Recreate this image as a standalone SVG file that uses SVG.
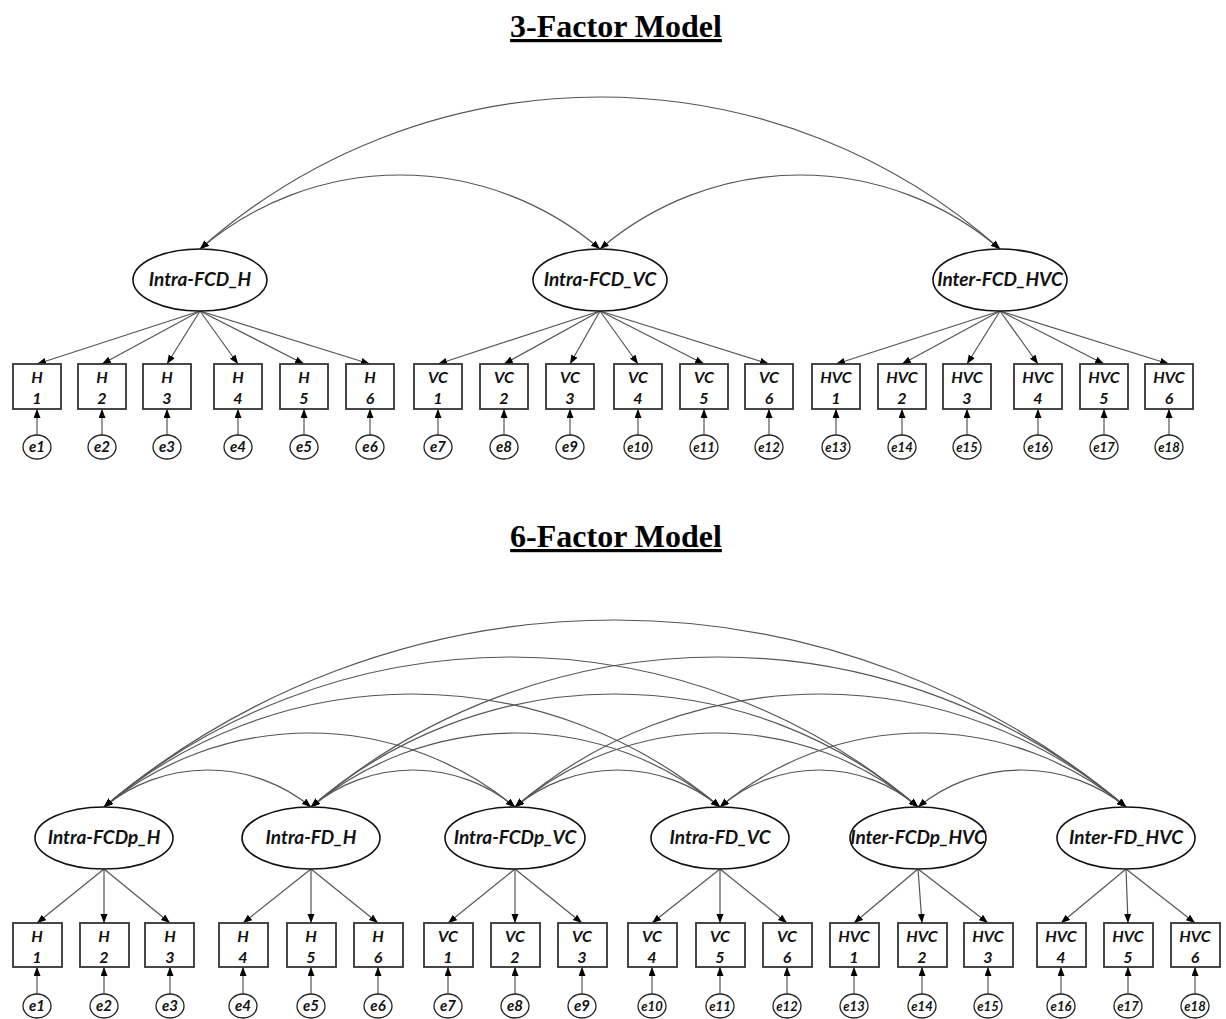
<svg xmlns="http://www.w3.org/2000/svg" width="1226" height="1019" viewBox="0 0 1226 1019">
<style>
.title{font-family:"Liberation Serif","Times New Roman",serif;font-weight:bold;font-size:32px;text-anchor:middle;text-decoration:underline;fill:#000}
.lat{fill:#fff;stroke:#111;stroke-width:1.6}
.latt{font-family:Lato,"Liberation Sans",sans-serif;font-weight:bold;font-style:italic;font-size:19px;text-anchor:middle;fill:#111}
.box{fill:#fff;stroke:#333;stroke-width:1.8}
.boxt{font-family:Lato,"Liberation Sans",sans-serif;font-weight:bold;font-style:italic;font-size:16px;text-anchor:middle;fill:#111}
.err{fill:#fff;stroke:#222;stroke-width:1.3}
.errt{font-family:Lato,"Liberation Sans",sans-serif;font-weight:bold;font-style:italic;font-size:15px;text-anchor:middle;fill:#111}
.errt2{font-size:13px}
.ln{fill:none;stroke:#555;stroke-width:1.2;marker-end:url(#ah)}
.cov{fill:none;stroke:#555;stroke-width:1.2;marker-start:url(#ah);marker-end:url(#ah)}
</style>
<defs>
<marker id="ah" markerUnits="userSpaceOnUse" markerWidth="10" markerHeight="8" refX="9" refY="3.5" orient="auto-start-reverse">
<path d="M0,0 L9,3.5 L0,7 z" fill="#000"/>
</marker>
</defs>
<rect width="1226" height="1019" fill="#fff"/>
<text class="title" x="616" y="37">3-Factor Model</text>
<text class="title" x="616" y="547">6-Factor Model</text>

<g id="connectors">
<!-- top covariances -->
<path class="cov" d="M200,249 A307.3,307.3 0 0 1 600,249"/>
<path class="cov" d="M600,249 A307.3,307.3 0 0 1 1000,249"/>
<path class="cov" d="M200,249 A602.3,602.3 0 0 1 1000,249"/>
<!-- top loadings -->
<path class="ln" d="M200,311 L37,364"/>
<path class="ln" d="M200,311 L102,364"/>
<path class="ln" d="M200,311 L167,364"/>
<path class="ln" d="M200,311 L238,364"/>
<path class="ln" d="M200,311 L304,364"/>
<path class="ln" d="M200,311 L370,364"/>
<path class="ln" d="M600,311 L438,364"/>
<path class="ln" d="M600,311 L504,364"/>
<path class="ln" d="M600,311 L570,364"/>
<path class="ln" d="M600,311 L638,364"/>
<path class="ln" d="M600,311 L704,364"/>
<path class="ln" d="M600,311 L769,364"/>
<path class="ln" d="M1000,311 L836,364"/>
<path class="ln" d="M1000,311 L902,364"/>
<path class="ln" d="M1000,311 L967,364"/>
<path class="ln" d="M1000,311 L1038,364"/>
<path class="ln" d="M1000,311 L1104,364"/>
<path class="ln" d="M1000,311 L1169,364"/>
<!-- top errors -->
<path class="ln" d="M37,435 L37,409"/>
<path class="ln" d="M102,435 L102,409"/>
<path class="ln" d="M167,435 L167,409"/>
<path class="ln" d="M238,435 L238,409"/>
<path class="ln" d="M304,435 L304,409"/>
<path class="ln" d="M370,435 L370,409"/>
<path class="ln" d="M438,435 L438,409"/>
<path class="ln" d="M504,435 L504,409"/>
<path class="ln" d="M570,435 L570,409"/>
<path class="ln" d="M638,435 L638,409"/>
<path class="ln" d="M704,435 L704,409"/>
<path class="ln" d="M769,435 L769,409"/>
<path class="ln" d="M836,435 L836,409"/>
<path class="ln" d="M902,435 L902,409"/>
<path class="ln" d="M967,435 L967,409"/>
<path class="ln" d="M1038,435 L1038,409"/>
<path class="ln" d="M1104,435 L1104,409"/>
<path class="ln" d="M1169,435 L1169,409"/>
<!-- bottom covariances -->
<path class="cov" d="M104,807 A163.3,163.3 0 0 1 311,807"/>
<path class="cov" d="M311,807 A159.1,159.1 0 0 1 515,807"/>
<path class="cov" d="M515,807 A160.5,160.5 0 0 1 720,807"/>
<path class="cov" d="M720,807 A150.9,150.9 0 0 1 918,807"/>
<path class="cov" d="M918,807 A164.7,164.7 0 0 1 1126,807"/>
<path class="cov" d="M104,807 A322.3,322.3 0 0 1 515,807"/>
<path class="cov" d="M311,807 A319.6,319.6 0 0 1 720,807"/>
<path class="cov" d="M515,807 A311.3,311.3 0 0 1 918,807"/>
<path class="cov" d="M720,807 A315.4,315.4 0 0 1 1126,807"/>
<path class="cov" d="M104,807 A476.3,476.3 0 0 1 720,807"/>
<path class="cov" d="M311,807 A464.1,464.1 0 0 1 918,807"/>
<path class="cov" d="M515,807 A469.5,469.5 0 0 1 1126,807"/>
<path class="cov" d="M104,807 A627.2,627.2 0 0 1 918,807"/>
<path class="cov" d="M311,807 A628.5,628.5 0 0 1 1126,807"/>
<path class="cov" d="M104,807 A791.7,791.7 0 0 1 1126,807"/>
<!-- bottom loadings -->
<path class="ln" d="M104,869 L37,923"/>
<path class="ln" d="M104,869 L104,923"/>
<path class="ln" d="M104,869 L170,923"/>
<path class="ln" d="M311,869 L243,923"/>
<path class="ln" d="M311,869 L311,923"/>
<path class="ln" d="M311,869 L378,923"/>
<path class="ln" d="M515,869 L448,923"/>
<path class="ln" d="M515,869 L515,923"/>
<path class="ln" d="M515,869 L582,923"/>
<path class="ln" d="M720,869 L652,923"/>
<path class="ln" d="M720,869 L720,923"/>
<path class="ln" d="M720,869 L787,923"/>
<path class="ln" d="M918,869 L854,923"/>
<path class="ln" d="M918,869 L922,923"/>
<path class="ln" d="M918,869 L988,923"/>
<path class="ln" d="M1126,869 L1061,923"/>
<path class="ln" d="M1126,869 L1128,923"/>
<path class="ln" d="M1126,869 L1195,923"/>
<!-- bottom errors -->
<path class="ln" d="M37,994 L37,967"/>
<path class="ln" d="M104,994 L104,967"/>
<path class="ln" d="M170,994 L170,967"/>
<path class="ln" d="M243,994 L243,967"/>
<path class="ln" d="M311,994 L311,967"/>
<path class="ln" d="M378,994 L378,967"/>
<path class="ln" d="M448,994 L448,967"/>
<path class="ln" d="M515,994 L515,967"/>
<path class="ln" d="M582,994 L582,967"/>
<path class="ln" d="M652,994 L652,967"/>
<path class="ln" d="M720,994 L720,967"/>
<path class="ln" d="M787,994 L787,967"/>
<path class="ln" d="M854,994 L854,967"/>
<path class="ln" d="M922,994 L922,967"/>
<path class="ln" d="M988,994 L988,967"/>
<path class="ln" d="M1061,994 L1061,967"/>
<path class="ln" d="M1128,994 L1128,967"/>
<path class="ln" d="M1195,994 L1195,967"/>
</g>

<!-- top latent -->
<g id="t-intra-fcd-h"><ellipse class="lat" cx="200" cy="280" rx="67" ry="31"/><text class="latt" x="200" y="286">Intra-FCD_H</text></g>
<g id="t-intra-fcd-vc"><ellipse class="lat" cx="600" cy="280" rx="67" ry="31"/><text class="latt" x="600" y="286">Intra-FCD_VC</text></g>
<g id="t-inter-fcd-hvc"><ellipse class="lat" cx="1000" cy="280" rx="67" ry="31"/><text class="latt" x="1000" y="286">Inter-FCD_HVC</text></g>

<!-- top boxes -->
<g id="t-h1"><rect class="box" x="13" y="364" width="48" height="45"/><text class="boxt" x="37" y="383">H</text><text class="boxt" x="37" y="404">1</text></g>
<g id="t-h2"><rect class="box" x="78" y="364" width="48" height="45"/><text class="boxt" x="102" y="383">H</text><text class="boxt" x="102" y="404">2</text></g>
<g id="t-h3"><rect class="box" x="143" y="364" width="48" height="45"/><text class="boxt" x="167" y="383">H</text><text class="boxt" x="167" y="404">3</text></g>
<g id="t-h4"><rect class="box" x="214" y="364" width="48" height="45"/><text class="boxt" x="238" y="383">H</text><text class="boxt" x="238" y="404">4</text></g>
<g id="t-h5"><rect class="box" x="280" y="364" width="48" height="45"/><text class="boxt" x="304" y="383">H</text><text class="boxt" x="304" y="404">5</text></g>
<g id="t-h6"><rect class="box" x="346" y="364" width="48" height="45"/><text class="boxt" x="370" y="383">H</text><text class="boxt" x="370" y="404">6</text></g>
<g id="t-vc1"><rect class="box" x="414" y="364" width="48" height="45"/><text class="boxt" x="438" y="383">VC</text><text class="boxt" x="438" y="404">1</text></g>
<g id="t-vc2"><rect class="box" x="480" y="364" width="48" height="45"/><text class="boxt" x="504" y="383">VC</text><text class="boxt" x="504" y="404">2</text></g>
<g id="t-vc3"><rect class="box" x="546" y="364" width="48" height="45"/><text class="boxt" x="570" y="383">VC</text><text class="boxt" x="570" y="404">3</text></g>
<g id="t-vc4"><rect class="box" x="614" y="364" width="48" height="45"/><text class="boxt" x="638" y="383">VC</text><text class="boxt" x="638" y="404">4</text></g>
<g id="t-vc5"><rect class="box" x="680" y="364" width="48" height="45"/><text class="boxt" x="704" y="383">VC</text><text class="boxt" x="704" y="404">5</text></g>
<g id="t-vc6"><rect class="box" x="745" y="364" width="48" height="45"/><text class="boxt" x="769" y="383">VC</text><text class="boxt" x="769" y="404">6</text></g>
<g id="t-hvc1"><rect class="box" x="812" y="364" width="48" height="45"/><text class="boxt" x="836" y="383">HVC</text><text class="boxt" x="836" y="404">1</text></g>
<g id="t-hvc2"><rect class="box" x="878" y="364" width="48" height="45"/><text class="boxt" x="902" y="383">HVC</text><text class="boxt" x="902" y="404">2</text></g>
<g id="t-hvc3"><rect class="box" x="943" y="364" width="48" height="45"/><text class="boxt" x="967" y="383">HVC</text><text class="boxt" x="967" y="404">3</text></g>
<g id="t-hvc4"><rect class="box" x="1014" y="364" width="48" height="45"/><text class="boxt" x="1038" y="383">HVC</text><text class="boxt" x="1038" y="404">4</text></g>
<g id="t-hvc5"><rect class="box" x="1080" y="364" width="48" height="45"/><text class="boxt" x="1104" y="383">HVC</text><text class="boxt" x="1104" y="404">5</text></g>
<g id="t-hvc6"><rect class="box" x="1145" y="364" width="48" height="45"/><text class="boxt" x="1169" y="383">HVC</text><text class="boxt" x="1169" y="404">6</text></g>

<!-- top errors -->
<g id="t-e1"><ellipse class="err" cx="37" cy="447" rx="14" ry="12"/><text class="errt" x="37" y="452">e1</text></g>
<g id="t-e2"><ellipse class="err" cx="102" cy="447" rx="14" ry="12"/><text class="errt" x="102" y="452">e2</text></g>
<g id="t-e3"><ellipse class="err" cx="167" cy="447" rx="14" ry="12"/><text class="errt" x="167" y="452">e3</text></g>
<g id="t-e4"><ellipse class="err" cx="238" cy="447" rx="14" ry="12"/><text class="errt" x="238" y="452">e4</text></g>
<g id="t-e5"><ellipse class="err" cx="304" cy="447" rx="14" ry="12"/><text class="errt" x="304" y="452">e5</text></g>
<g id="t-e6"><ellipse class="err" cx="370" cy="447" rx="14" ry="12"/><text class="errt" x="370" y="452">e6</text></g>
<g id="t-e7"><ellipse class="err" cx="438" cy="447" rx="14" ry="12"/><text class="errt" x="438" y="452">e7</text></g>
<g id="t-e8"><ellipse class="err" cx="504" cy="447" rx="14" ry="12"/><text class="errt" x="504" y="452">e8</text></g>
<g id="t-e9"><ellipse class="err" cx="570" cy="447" rx="14" ry="12"/><text class="errt" x="570" y="452">e9</text></g>
<g id="t-e10"><ellipse class="err" cx="638" cy="447" rx="14" ry="12"/><text class="errt errt2" x="638" y="452">e10</text></g>
<g id="t-e11"><ellipse class="err" cx="704" cy="447" rx="14" ry="12"/><text class="errt errt2" x="704" y="452">e11</text></g>
<g id="t-e12"><ellipse class="err" cx="769" cy="447" rx="14" ry="12"/><text class="errt errt2" x="769" y="452">e12</text></g>
<g id="t-e13"><ellipse class="err" cx="836" cy="447" rx="14" ry="12"/><text class="errt errt2" x="836" y="452">e13</text></g>
<g id="t-e14"><ellipse class="err" cx="902" cy="447" rx="14" ry="12"/><text class="errt errt2" x="902" y="452">e14</text></g>
<g id="t-e15"><ellipse class="err" cx="967" cy="447" rx="14" ry="12"/><text class="errt errt2" x="967" y="452">e15</text></g>
<g id="t-e16"><ellipse class="err" cx="1038" cy="447" rx="14" ry="12"/><text class="errt errt2" x="1038" y="452">e16</text></g>
<g id="t-e17"><ellipse class="err" cx="1104" cy="447" rx="14" ry="12"/><text class="errt errt2" x="1104" y="452">e17</text></g>
<g id="t-e18"><ellipse class="err" cx="1169" cy="447" rx="14" ry="12"/><text class="errt errt2" x="1169" y="452">e18</text></g>

<!-- bottom latent -->
<g id="b-intra-fcdp-h"><ellipse class="lat" cx="104" cy="838" rx="69" ry="31"/><text class="latt" x="104" y="844">Intra-FCDp_H</text></g>
<g id="b-intra-fd-h"><ellipse class="lat" cx="311" cy="838" rx="69" ry="31"/><text class="latt" x="311" y="844">Intra-FD_H</text></g>
<g id="b-intra-fcdp-vc"><ellipse class="lat" cx="515" cy="838" rx="70" ry="31"/><text class="latt" x="515" y="844">Intra-FCDp_VC</text></g>
<g id="b-intra-fd-vc"><ellipse class="lat" cx="720" cy="838" rx="69" ry="31"/><text class="latt" x="720" y="844">Intra-FD_VC</text></g>
<g id="b-inter-fcdp-hvc"><ellipse class="lat" cx="918" cy="838" rx="68" ry="31"/><text class="latt" x="918" y="844">Inter-FCDp_HVC</text></g>
<g id="b-inter-fd-hvc"><ellipse class="lat" cx="1126" cy="838" rx="69" ry="31"/><text class="latt" x="1126" y="844">Inter-FD_HVC</text></g>

<!-- bottom boxes -->
<g id="b-h1"><rect class="box" x="13" y="923" width="49" height="44"/><text class="boxt" x="37" y="942">H</text><text class="boxt" x="37" y="963">1</text></g>
<g id="b-h2"><rect class="box" x="80" y="923" width="49" height="44"/><text class="boxt" x="104" y="942">H</text><text class="boxt" x="104" y="963">2</text></g>
<g id="b-h3"><rect class="box" x="145" y="923" width="49" height="44"/><text class="boxt" x="170" y="942">H</text><text class="boxt" x="170" y="963">3</text></g>
<g id="b-h4"><rect class="box" x="219" y="923" width="49" height="44"/><text class="boxt" x="243" y="942">H</text><text class="boxt" x="243" y="963">4</text></g>
<g id="b-h5"><rect class="box" x="287" y="923" width="49" height="44"/><text class="boxt" x="311" y="942">H</text><text class="boxt" x="311" y="963">5</text></g>
<g id="b-h6"><rect class="box" x="354" y="923" width="49" height="44"/><text class="boxt" x="378" y="942">H</text><text class="boxt" x="378" y="963">6</text></g>
<g id="b-vc1"><rect class="box" x="424" y="923" width="49" height="44"/><text class="boxt" x="448" y="942">VC</text><text class="boxt" x="448" y="963">1</text></g>
<g id="b-vc2"><rect class="box" x="491" y="923" width="49" height="44"/><text class="boxt" x="515" y="942">VC</text><text class="boxt" x="515" y="963">2</text></g>
<g id="b-vc3"><rect class="box" x="558" y="923" width="49" height="44"/><text class="boxt" x="582" y="942">VC</text><text class="boxt" x="582" y="963">3</text></g>
<g id="b-vc4"><rect class="box" x="628" y="923" width="49" height="44"/><text class="boxt" x="652" y="942">VC</text><text class="boxt" x="652" y="963">4</text></g>
<g id="b-vc5"><rect class="box" x="696" y="923" width="49" height="44"/><text class="boxt" x="720" y="942">VC</text><text class="boxt" x="720" y="963">5</text></g>
<g id="b-vc6"><rect class="box" x="763" y="923" width="49" height="44"/><text class="boxt" x="787" y="942">VC</text><text class="boxt" x="787" y="963">6</text></g>
<g id="b-hvc1"><rect class="box" x="830" y="923" width="49" height="44"/><text class="boxt" x="854" y="942">HVC</text><text class="boxt" x="854" y="963">1</text></g>
<g id="b-hvc2"><rect class="box" x="898" y="923" width="49" height="44"/><text class="boxt" x="922" y="942">HVC</text><text class="boxt" x="922" y="963">2</text></g>
<g id="b-hvc3"><rect class="box" x="964" y="923" width="49" height="44"/><text class="boxt" x="988" y="942">HVC</text><text class="boxt" x="988" y="963">3</text></g>
<g id="b-hvc4"><rect class="box" x="1037" y="923" width="49" height="44"/><text class="boxt" x="1061" y="942">HVC</text><text class="boxt" x="1061" y="963">4</text></g>
<g id="b-hvc5"><rect class="box" x="1104" y="923" width="49" height="44"/><text class="boxt" x="1128" y="942">HVC</text><text class="boxt" x="1128" y="963">5</text></g>
<g id="b-hvc6"><rect class="box" x="1171" y="923" width="49" height="44"/><text class="boxt" x="1195" y="942">HVC</text><text class="boxt" x="1195" y="963">6</text></g>

<!-- bottom errors -->
<g id="b-e1"><ellipse class="err" cx="37" cy="1006" rx="14" ry="12"/><text class="errt" x="37" y="1011">e1</text></g>
<g id="b-e2"><ellipse class="err" cx="104" cy="1006" rx="14" ry="12"/><text class="errt" x="104" y="1011">e2</text></g>
<g id="b-e3"><ellipse class="err" cx="170" cy="1006" rx="14" ry="12"/><text class="errt" x="170" y="1011">e3</text></g>
<g id="b-e4"><ellipse class="err" cx="243" cy="1006" rx="14" ry="12"/><text class="errt" x="243" y="1011">e4</text></g>
<g id="b-e5"><ellipse class="err" cx="311" cy="1006" rx="14" ry="12"/><text class="errt" x="311" y="1011">e5</text></g>
<g id="b-e6"><ellipse class="err" cx="378" cy="1006" rx="14" ry="12"/><text class="errt" x="378" y="1011">e6</text></g>
<g id="b-e7"><ellipse class="err" cx="448" cy="1006" rx="14" ry="12"/><text class="errt" x="448" y="1011">e7</text></g>
<g id="b-e8"><ellipse class="err" cx="515" cy="1006" rx="14" ry="12"/><text class="errt" x="515" y="1011">e8</text></g>
<g id="b-e9"><ellipse class="err" cx="582" cy="1006" rx="14" ry="12"/><text class="errt" x="582" y="1011">e9</text></g>
<g id="b-e10"><ellipse class="err" cx="652" cy="1006" rx="14" ry="12"/><text class="errt errt2" x="652" y="1011">e10</text></g>
<g id="b-e11"><ellipse class="err" cx="720" cy="1006" rx="14" ry="12"/><text class="errt errt2" x="720" y="1011">e11</text></g>
<g id="b-e12"><ellipse class="err" cx="787" cy="1006" rx="14" ry="12"/><text class="errt errt2" x="787" y="1011">e12</text></g>
<g id="b-e13"><ellipse class="err" cx="854" cy="1006" rx="14" ry="12"/><text class="errt errt2" x="854" y="1011">e13</text></g>
<g id="b-e14"><ellipse class="err" cx="922" cy="1006" rx="14" ry="12"/><text class="errt errt2" x="922" y="1011">e14</text></g>
<g id="b-e15"><ellipse class="err" cx="988" cy="1006" rx="14" ry="12"/><text class="errt errt2" x="988" y="1011">e15</text></g>
<g id="b-e16"><ellipse class="err" cx="1061" cy="1006" rx="14" ry="12"/><text class="errt errt2" x="1061" y="1011">e16</text></g>
<g id="b-e17"><ellipse class="err" cx="1128" cy="1006" rx="14" ry="12"/><text class="errt errt2" x="1128" y="1011">e17</text></g>
<g id="b-e18"><ellipse class="err" cx="1195" cy="1006" rx="14" ry="12"/><text class="errt errt2" x="1195" y="1011">e18</text></g>
</svg>
